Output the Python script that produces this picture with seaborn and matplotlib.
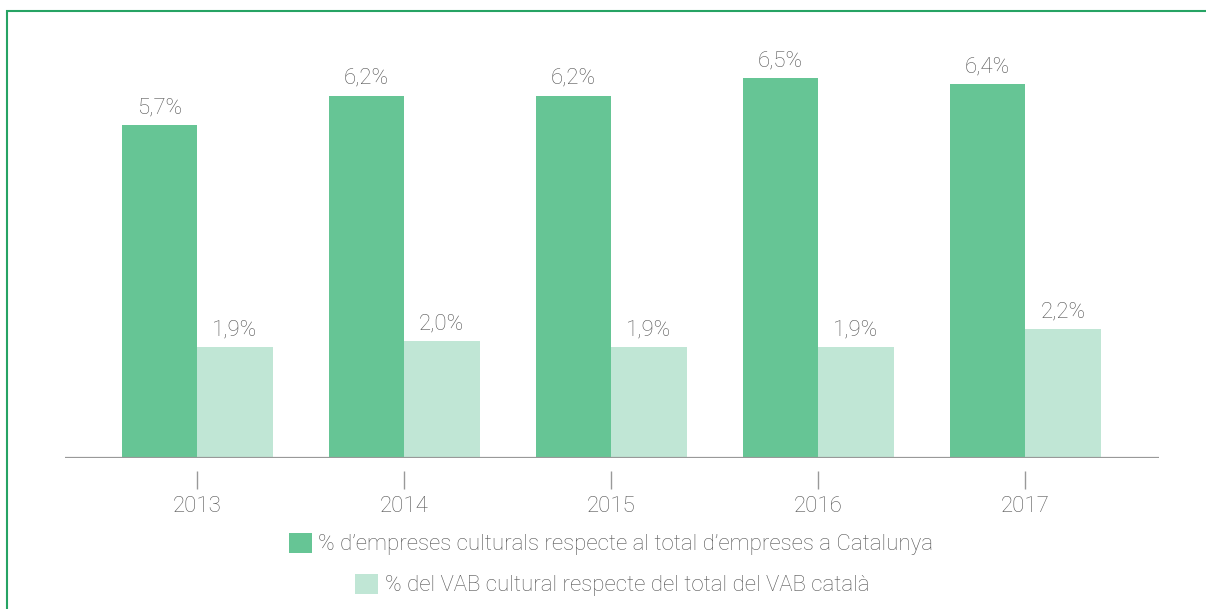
import matplotlib
matplotlib.use("Agg")
import matplotlib.pyplot as plt
import matplotlib.patches as mpatches
import seaborn as sns
import pandas as pd

years = ["2013", "2014", "2015", "2016", "2017"]
empreses = [5.7, 6.2, 6.2, 6.5, 6.4]
vab = [1.9, 2.0, 1.9, 1.9, 2.2]
series_names = [
    "% d\u2019empreses culturals respecte al total d\u2019empreses a Catalunya",
    "% del VAB cultural respecte del total del VAB català",
]
colors = ["#66C595", "#C0E6D5"]

df = pd.DataFrame({
    "any": years * 2,
    "valor": empreses + vab,
    "serie": [series_names[0]] * len(years) + [series_names[1]] * len(years),
})

sns.set_style("white")
plt.rcParams["font.family"] = ["Roboto", "DejaVu Sans"]
txt_color = "#555555"
FS = 16

W, H = 1206, 609
fig = plt.figure(figsize=(W / 100, H / 100), dpi=100)
ax = fig.add_axes([65 / W, 1 - 458 / H, (1159 - 65) / W, (458 - 49) / H])

sns.barplot(data=df, x="any", y="valor", hue="serie", palette=colors,
            width=0.73, gap=0, ax=ax, saturation=1, edgecolor="none", linewidth=0)

ax.set_xlim(-0.638, 4.647)
ax.set_ylim(0, 7)

for cont in ax.containers:
    ax.bar_label(cont, labels=[f"{v:.1f}".replace(".", ",") + "%" for v in cont.datavalues],
                 padding=5, fontsize=FS, color=txt_color, fontweight="light")

handles, labels = ax.get_legend_handles_labels()
if ax.get_legend() is not None:
    ax.get_legend().remove()

ax.set_xlabel("")
ax.set_ylabel("")
ax.set_yticks([])
for s in ["left", "right", "top"]:
    ax.spines[s].set_visible(False)
ax.spines["bottom"].set_position(("outward", 9))
ax.spines["bottom"].set_color("none")
ax.axhline(0, color="#999999", lw=1.6, zorder=3)
ax.tick_params(axis="x", length=13, width=1, color="#999999", direction="out",
               pad=5, labelsize=FS, labelcolor=txt_color, bottom=True)
for t in ax.get_xticklabels():
    t.set_fontweight("light")

leg_kw = dict(frameon=False, loc="center", handlelength=1.04, handleheight=1.04,
              handletextpad=0.3, borderpad=0, borderaxespad=0,
              prop={"size": FS, "weight": "light"}, labelcolor=txt_color)
leg1 = fig.legend([handles[0]], [labels[0]], bbox_to_anchor=(611 / W, 1 - 544 / H), **leg_kw)
leg2 = fig.legend([handles[1]], [labels[1]], bbox_to_anchor=(612 / W, 1 - 585 / H), **leg_kw)

border = mpatches.Rectangle((7 / W, -0.05), 1.1, 1 - 11 / H + 0.05,
                            transform=fig.transFigure, fill=False,
                            edgecolor="#26A364", lw=1.5)
fig.patches.append(border)

fig.savefig("out.png", dpi=100)
